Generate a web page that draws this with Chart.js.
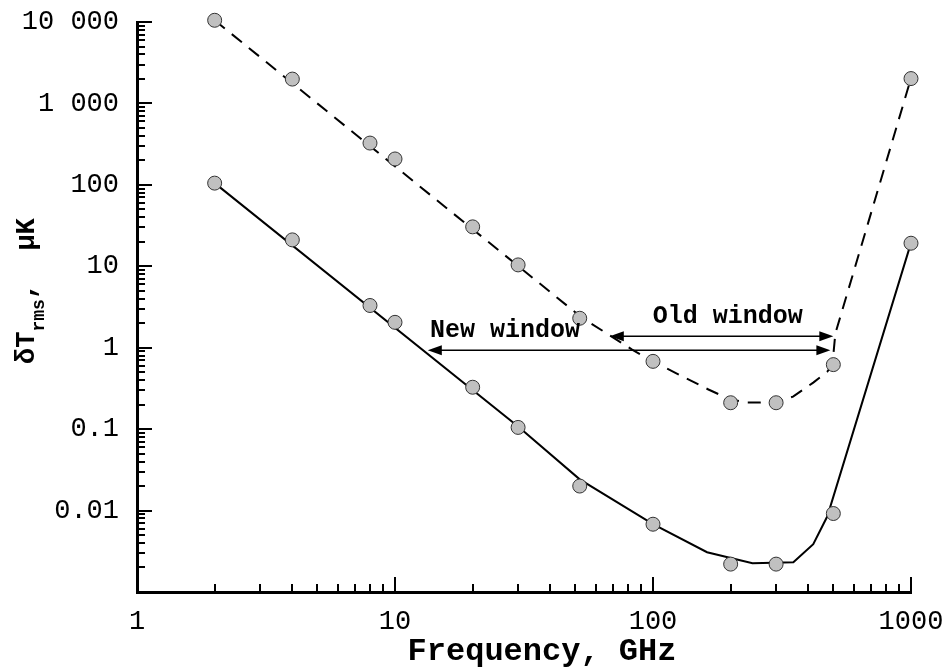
<!DOCTYPE html>
<html>
<head>
<meta charset="utf-8">
<script src="https://cdn.jsdelivr.net/npm/chart.js@4/dist/chart.umd.min.js"></script>
<style>
  html, body { margin: 0; padding: 0; background: #fff; }
  #wrap { width: 943px; height: 670px; }
</style>
</head>
<body>
<div id="wrap"><canvas id="chart" width="943" height="670"></canvas></div>
<script>
// Measured points (frequency in GHz, dT_rms in uK)
const freqs = [2, 4, 8, 10, 20, 30, 52, 100, 200, 300, 500, 1000];
const upperValues = [10500, 1990, 326, 208, 30.5, 10.4, 2.3, 0.68, 0.211, 0.211, 0.62, 2020];
const lowerValues = [105, 21.1, 3.3, 2.05, 0.327, 0.105, 0.020, 0.0068, 0.0022, 0.0022, 0.0092, 19.2];

// Curves drawn through the points
const upperFitFreqs = [2, 53, 83, 100, 164, 199, 232, 260, 303, 349, 418, 474, 496, 509, 1000];
const upperFitValues = [10500, 2.34, 0.95, 0.676, 0.307, 0.231, 0.212, 0.212, 0.218, 0.251, 0.373, 0.51, 0.62, 1.49, 2040];
const lowerFitFreqs = [2, 30, 52, 100, 162, 243, 350, 418, 474, 1000];
const lowerFitValues = [105, 0.108, 0.0242, 0.0068, 0.00308, 0.00226, 0.00232, 0.00386, 0.0085, 19.4];

// Frequency windows (double arrows) and their captions
const windowLabels = ['New window', 'Old window'];
const windowFrom = [13.4, 68];
const windowTo = [487, 500];
const windowLevel = [0.93, 1.38];
const labelFreq = [26.7, 195];
const labelLevel = [1.37, 2.03];

// Axis ticks
const xTickValues = [1, 10, 100, 1000];
const xTickLabels = ['1', '10', '100', '1000'];
const yTickValues = [10000, 1000, 100, 10, 1, 0.1, 0.01];
const yTickLabels = ['10 000', '1 000', '100', '10', '1', '0.1', '0.01'];

const MONO = "'Liberation Mono', 'Courier New', monospace";

const toXY = (xs, ys) => xs.map((x, i) => ({ x, y: ys[i] }));

function minorValues(fromExp, toExp) {
    const out = [];
    for (let e = fromExp; e < toExp; e++) {
        for (let m = 2; m <= 9; m++) out.push(m * Math.pow(10, e));
    }
    return out;
}

function drawArrowHead(ctx, x, y, dir) {
    ctx.beginPath();
    ctx.moveTo(x, y);
    ctx.lineTo(x - dir * 14, y - 5);
    ctx.lineTo(x - dir * 14, y + 5);
    ctx.closePath();
    ctx.fill();
}

// no extra room for overflowing tick labels: the chart area is set by layout.padding
function noLabelPadding(s) {
    s.paddingTop = 0;
    s.paddingBottom = 0;
    s.paddingLeft = 0;
    s.paddingRight = 0;
}

const decor = {
    id: 'decor',
    afterDatasetsDraw(chart) {
        const { ctx, scales: { x, y } } = chart;
        ctx.save();
        ctx.strokeStyle = '#000';
        ctx.fillStyle = '#000';
        ctx.lineWidth = 1.6;
        windowLabels.forEach((label, i) => {
            const x1 = x.getPixelForValue(windowFrom[i]);
            const x2 = x.getPixelForValue(windowTo[i]);
            const yy = y.getPixelForValue(windowLevel[i]);
            ctx.beginPath();
            ctx.moveTo(x1 + 10, yy);
            ctx.lineTo(x2 - 10, yy);
            ctx.stroke();
            drawArrowHead(ctx, x1, yy, -1);
            drawArrowHead(ctx, x2, yy, 1);

            ctx.font = `bold 25px ${MONO}`;
            ctx.textAlign = 'center';
            ctx.textBaseline = 'alphabetic';
            ctx.fillText(label, x.getPixelForValue(labelFreq[i]), y.getPixelForValue(labelLevel[i]));
        });
        ctx.restore();
    },
    afterDraw(chart) {
        const { ctx, chartArea: area, scales: { x, y } } = chart;
        ctx.save();
        ctx.strokeStyle = '#000';
        ctx.lineWidth = 2;

        // inward tick marks
        ctx.beginPath();
        xTickValues.forEach(v => {
            const px = Math.round(x.getPixelForValue(v));
            ctx.moveTo(px, area.bottom);
            ctx.lineTo(px, area.bottom - 15);
        });
        minorValues(0, 3).forEach(v => {
            const px = Math.round(x.getPixelForValue(v));
            ctx.moveTo(px, area.bottom);
            ctx.lineTo(px, area.bottom - 8);
        });
        yTickValues.forEach(v => {
            const py = Math.round(y.getPixelForValue(v));
            ctx.moveTo(area.left, py);
            ctx.lineTo(area.left + 15, py);
        });
        minorValues(-3, 4).forEach(v => {
            const py = Math.round(y.getPixelForValue(v));
            ctx.moveTo(area.left, py);
            ctx.lineTo(area.left + 8, py);
        });
        ctx.stroke();

        // axis titles
        ctx.fillStyle = '#000';
        ctx.font = `bold 32px ${MONO}`;
        ctx.textAlign = 'center';
        ctx.textBaseline = 'alphabetic';
        ctx.fillText('Frequency, GHz', 542, 660);

        ctx.translate(34, 364);
        ctx.rotate(-Math.PI / 2);
        ctx.textAlign = 'left';
        let pos = 0;
        ctx.font = `bold 27px ${MONO}`;
        ctx.fillText('\u03B4T', pos, 0);
        pos += ctx.measureText('\u03B4T').width;
        ctx.font = `bold 18px ${MONO}`;
        ctx.fillText('rms', pos, 10);
        pos += ctx.measureText('rms').width;
        ctx.font = `bold 27px ${MONO}`;
        ctx.fillText(',  \u03BCK', pos, 0);
        ctx.restore();
    }
};

Chart.defaults.color = '#000';

new Chart(document.getElementById('chart').getContext('2d'), {
    type: 'line',
    data: {
        datasets: [
            {
                label: 'upper points',
                data: toXY(freqs, upperValues),
                showLine: false,
                pointRadius: 7,
                pointBackgroundColor: '#c0c0c0',
                pointBorderColor: '#333',
                pointBorderWidth: 1,
                clip: false,
                order: 0,
            },
            {
                label: 'lower points',
                data: toXY(freqs, lowerValues),
                showLine: false,
                pointRadius: 7,
                pointBackgroundColor: '#c0c0c0',
                pointBorderColor: '#333',
                pointBorderWidth: 1,
                clip: false,
                order: 0,
            },
            {
                label: 'upper curve',
                data: toXY(upperFitFreqs, upperFitValues),
                borderColor: '#000',
                borderWidth: 2,
                borderDash: [13, 9],
                pointRadius: 0,
                tension: 0,
                fill: false,
                clip: false,
                order: 1,
            },
            {
                label: 'lower curve',
                data: toXY(lowerFitFreqs, lowerFitValues),
                borderColor: '#000',
                borderWidth: 2,
                pointRadius: 0,
                tension: 0,
                fill: false,
                clip: false,
                order: 1,
            },
        ]
    },
    options: {
        responsive: false,
        animation: false,
        layout: { padding: { top: 22, right: 32, left: 0, bottom: 0 } },
        plugins: {
            legend: { display: false },
            tooltip: { enabled: false },
        },
        scales: {
            x: {
                type: 'logarithmic',
                min: 1,
                max: 1000,
                afterBuildTicks: s => { s.ticks = xTickValues.map(v => ({ value: v })); },
                afterFit: s => { s.height = 78; noLabelPadding(s); },
                grid: { display: false, drawTicks: false },
                border: { display: true, width: 3, color: '#000' },
                ticks: {
                    autoSkip: false,
                    maxRotation: 0,
                    padding: 14,
                    font: { family: MONO, size: 27 },
                    callback: v => xTickLabels[xTickValues.indexOf(v)],
                },
            },
            y: {
                type: 'logarithmic',
                min: 0.001,
                max: 10000,
                afterBuildTicks: s => { s.ticks = yTickValues.map(v => ({ value: v })); },
                afterFit: s => { s.width = 137; noLabelPadding(s); },
                grid: { display: false, drawTicks: false },
                border: { display: true, width: 3, color: '#000' },
                ticks: {
                    autoSkip: false,
                    padding: 18,
                    font: { family: MONO, size: 27 },
                    callback: v => yTickLabels[yTickValues.indexOf(v)],
                },
            },
        },
    },
    plugins: [decor],
});
</script>
</body>
</html>
